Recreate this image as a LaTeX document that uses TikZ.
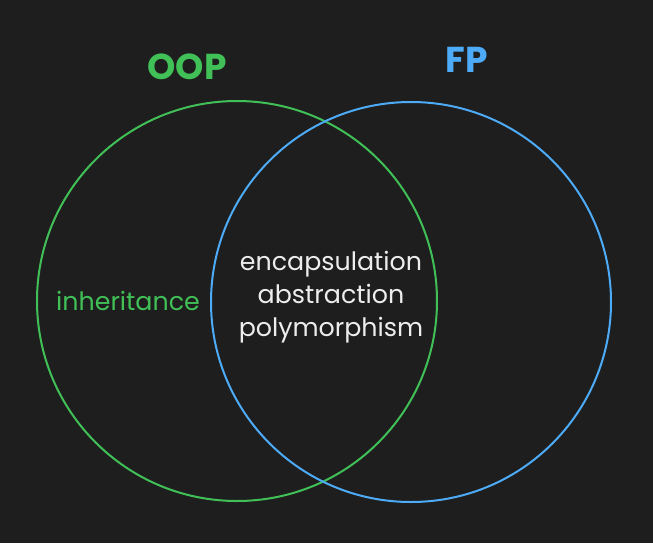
\documentclass[tikz,border=0pt]{standalone}
\usepackage{fontspec}
\setmainfont{Poppins}
\definecolor{canvas}{HTML}{1E1E1E}
\definecolor{oopgreen}{HTML}{40C057}
\definecolor{fpblue}{HTML}{4DABF7}
\definecolor{chalk}{HTML}{EDEDED}

\begin{document}
\begin{tikzpicture}[x=0.75pt,y=-0.75pt,
	ring/.style={circle, draw, line width=1.5pt, minimum size=300pt, inner sep=0pt},
	venntext/.style={font=\fontsize{19}{24.75}\selectfont, align=center},
	heading/.style={font=\fontsize{27}{30}\selectfont\bfseries}]
	\fill[canvas] (0,0) rectangle (653,543);

	% the two sets
	\node[ring, oopgreen] (oop) at (237,301) {};
	\node[ring, fpblue] (fp) at (411,302) {};

	% set names
	\node[heading, oopgreen] (oopname) at (187,67) {OOP};
	\node[heading, fpblue] (fpname) at (467,60) {FP};

	% members
	\node[venntext, oopgreen] (inherit) at (128,301) {inheritance};
	\node[venntext, chalk] (shared) at (331,297) {encapsulation\\abstraction\\polymorphism};
\end{tikzpicture}
\end{document}
